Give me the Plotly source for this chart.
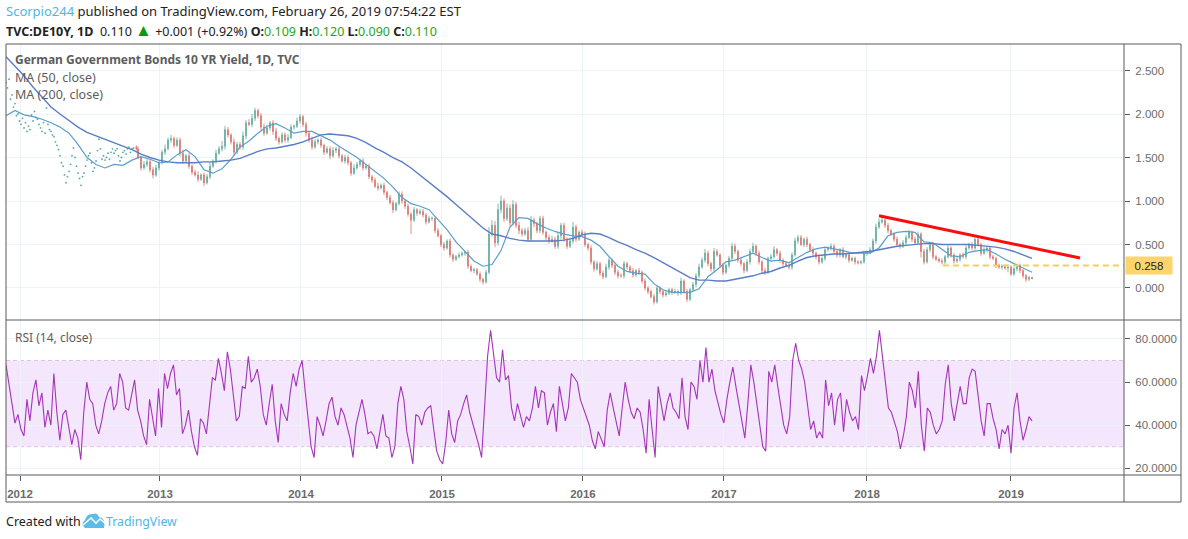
import numpy as np
import plotly.graph_objects as go
from plotly.subplots import make_subplots

# x axis is counted in weekly-ish bars, bar 0 is the first drawn candle (late 2012)
YEAR_BARS = [-38.33, 8.33, 55.33, 102.33, 149.33, 196.33, 244, 292]
YEAR_LABELS = ["2012", "2013", "2014", "2015", "2016", "2017", "2018", "2019"]
PRICE_TICKS = [0.0, 0.5, 1.0, 1.5, 2.0, 2.5]
RSI_TICKS = [20, 40, 60, 80]
RSI_BAND = [30, 70]

FIRST_OPEN = 1.62
CLOSE = [
    1.60, 1.50, 1.38, 1.42, 1.45, 1.36, 1.30, 1.38, 1.44, 1.56, 1.60, 1.70, 1.72, 1.64, 1.70,
    1.55, 1.46, 1.52, 1.40, 1.33, 1.30, 1.25, 1.30, 1.21, 1.28, 1.40, 1.46, 1.55, 1.60, 1.63,
    1.82, 1.76, 1.68, 1.56, 1.65, 1.62, 1.75, 1.90, 1.88, 1.95, 2.04, 1.98, 1.85, 1.78, 1.84,
    1.90, 1.80, 1.72, 1.68, 1.76, 1.70, 1.73, 1.85, 1.86, 1.92, 1.97, 1.88, 1.78, 1.70, 1.62,
    1.68, 1.70, 1.64, 1.56, 1.60, 1.52, 1.58, 1.60, 1.52, 1.46, 1.50, 1.44, 1.32, 1.38, 1.42,
    1.46, 1.38, 1.40, 1.28, 1.24, 1.17, 1.15, 1.18, 1.10, 1.04, 0.98, 0.90, 0.97, 1.08, 1.00,
    0.94, 0.85, 0.78, 0.90, 0.86, 0.88, 0.84, 0.76, 0.80, 0.80, 0.66, 0.60, 0.50, 0.46, 0.54,
    0.38, 0.33, 0.36, 0.38, 0.40, 0.41, 0.25, 0.20, 0.21, 0.16, 0.10, 0.07, 0.18, 0.62, 0.72,
    0.52, 0.90, 1.00, 0.80, 0.92, 0.75, 0.96, 0.72, 0.66, 0.62, 0.66, 0.56, 0.78, 0.74, 0.66,
    0.80, 0.64, 0.58, 0.54, 0.56, 0.48, 0.60, 0.72, 0.56, 0.48, 0.54, 0.70, 0.56, 0.64, 0.62,
    0.50, 0.46, 0.30, 0.22, 0.28, 0.17, 0.13, 0.24, 0.32, 0.26, 0.18, 0.14, 0.14, 0.28, 0.24,
    0.20, 0.15, 0.20, 0.18, 0.08, 0.00, -0.04, -0.10, -0.16, 0.00, -0.04, -0.08, -0.06, -0.02, -0.05,
    -0.04, -0.06, 0.08, -0.04, -0.13, -0.02, 0.04, 0.14, 0.24, 0.32, 0.40, 0.28, 0.22, 0.42, 0.38,
    0.26, 0.18, 0.26, 0.34, 0.48, 0.42, 0.32, 0.28, 0.20, 0.30, 0.42, 0.48, 0.40, 0.30, 0.20,
    0.18, 0.34, 0.36, 0.44, 0.40, 0.32, 0.28, 0.26, 0.24, 0.38, 0.54, 0.58, 0.50, 0.56, 0.50,
    0.44, 0.40, 0.36, 0.30, 0.34, 0.44, 0.46, 0.48, 0.42, 0.38, 0.44, 0.36, 0.38, 0.32, 0.34,
    0.30, 0.29, 0.30, 0.40, 0.41, 0.44, 0.54, 0.70, 0.76, 0.78, 0.72, 0.66, 0.62, 0.56, 0.50,
    0.48, 0.52, 0.58, 0.64, 0.56, 0.52, 0.62, 0.42, 0.30, 0.44, 0.50, 0.36, 0.33, 0.31, 0.30,
    0.36, 0.46, 0.38, 0.31, 0.33, 0.38, 0.36, 0.46, 0.50, 0.46, 0.56, 0.50, 0.40, 0.44, 0.46,
    0.36, 0.34, 0.26, 0.24, 0.25, 0.23, 0.24, 0.16, 0.22, 0.26, 0.20, 0.14, 0.10, 0.12, 0.11,
]
# wick lengths above / below the candle body
WICK_UP = [
    0.02, 0.03, 0.02, 0.04, 0.03, 0.02, 0.03, 0.04, 0.02, 0.03, 0.05, 0.03, 0.04, 0.02, 0.03,
    0.03, 0.04, 0.02, 0.03, 0.02, 0.03, 0.04, 0.02, 0.03, 0.03, 0.05, 0.02, 0.04, 0.03, 0.06,
    0.04, 0.03, 0.02, 0.04, 0.03, 0.03, 0.05, 0.03, 0.04, 0.05, 0.03, 0.02, 0.03, 0.04, 0.03,
    0.02, 0.03, 0.04, 0.02, 0.03, 0.03, 0.04, 0.03, 0.02, 0.04, 0.03, 0.02, 0.03, 0.02, 0.04,
    0.03, 0.02, 0.03, 0.02, 0.03, 0.03, 0.04, 0.02, 0.03, 0.02, 0.03, 0.03, 0.02, 0.04, 0.03,
    0.02, 0.03, 0.02, 0.03, 0.02, 0.03, 0.04, 0.02, 0.03, 0.02, 0.03, 0.03, 0.02, 0.03, 0.03,
    0.02, 0.03, 0.02, 0.03, 0.02, 0.03, 0.03, 0.02, 0.03, 0.02, 0.02, 0.03, 0.02, 0.03, 0.02,
    0.03, 0.02, 0.02, 0.03, 0.02, 0.02, 0.03, 0.02, 0.02, 0.02, 0.03, 0.02, 0.03, 0.08, 0.06,
    0.05, 0.07, 0.06, 0.03, 0.05, 0.04, 0.05, 0.03, 0.04, 0.03, 0.03, 0.04, 0.05, 0.03, 0.02,
    0.03, 0.03, 0.02, 0.03, 0.04, 0.03, 0.04, 0.03, 0.03, 0.02, 0.04, 0.06, 0.03, 0.02, 0.03,
    0.03, 0.02, 0.03, 0.02, 0.03, 0.02, 0.03, 0.04, 0.03, 0.02, 0.02, 0.03, 0.03, 0.03, 0.02,
    0.02, 0.03, 0.02, 0.03, 0.02, 0.03, 0.02, 0.02, 0.03, 0.03, 0.02, 0.02, 0.03, 0.02, 0.02,
    0.03, 0.02, 0.04, 0.02, 0.03, 0.02, 0.03, 0.03, 0.04, 0.03, 0.05, 0.03, 0.02, 0.04, 0.03,
    0.02, 0.03, 0.02, 0.03, 0.04, 0.03, 0.02, 0.03, 0.02, 0.03, 0.03, 0.04, 0.02, 0.03, 0.02,
    0.03, 0.02, 0.03, 0.04, 0.02, 0.03, 0.02, 0.03, 0.02, 0.03, 0.04, 0.03, 0.03, 0.02, 0.03,
    0.02, 0.03, 0.02, 0.03, 0.02, 0.03, 0.02, 0.03, 0.02, 0.03, 0.02, 0.03, 0.02, 0.03, 0.02,
    0.02, 0.02, 0.02, 0.03, 0.02, 0.03, 0.03, 0.04, 0.04, 0.03, 0.02, 0.03, 0.02, 0.02, 0.03,
    0.02, 0.03, 0.03, 0.03, 0.02, 0.03, 0.03, 0.02, 0.03, 0.03, 0.02, 0.02, 0.02, 0.02, 0.03,
    0.02, 0.03, 0.02, 0.02, 0.03, 0.02, 0.03, 0.03, 0.02, 0.03, 0.02, 0.02, 0.02, 0.03, 0.02,
    0.02, 0.02, 0.02, 0.02, 0.02, 0.02, 0.03, 0.02, 0.02, 0.02, 0.02, 0.02, 0.02, 0.02, 0.01,
]
WICK_DOWN = [
    0.02, 0.02, 0.03, 0.02, 0.03, 0.03, 0.04, 0.02, 0.03, 0.02, 0.03, 0.02, 0.03, 0.03, 0.02,
    0.04, 0.03, 0.02, 0.03, 0.03, 0.02, 0.03, 0.02, 0.04, 0.02, 0.03, 0.02, 0.03, 0.02, 0.03,
    0.04, 0.03, 0.03, 0.04, 0.02, 0.03, 0.03, 0.04, 0.02, 0.03, 0.03, 0.03, 0.04, 0.03, 0.02,
    0.03, 0.04, 0.03, 0.03, 0.02, 0.03, 0.03, 0.02, 0.03, 0.02, 0.03, 0.03, 0.04, 0.03, 0.03,
    0.02, 0.03, 0.03, 0.03, 0.02, 0.04, 0.02, 0.03, 0.03, 0.02, 0.03, 0.03, 0.03, 0.02, 0.02,
    0.03, 0.03, 0.02, 0.03, 0.03, 0.02, 0.03, 0.02, 0.03, 0.03, 0.02, 0.04, 0.02, 0.02, 0.03,
    0.03, 0.03, 0.16, 0.02, 0.03, 0.02, 0.03, 0.03, 0.02, 0.03, 0.03, 0.02, 0.03, 0.03, 0.02,
    0.03, 0.03, 0.02, 0.02, 0.02, 0.03, 0.03, 0.02, 0.03, 0.02, 0.03, 0.03, 0.02, 0.02, 0.03,
    0.05, 0.03, 0.04, 0.04, 0.03, 0.04, 0.03, 0.03, 0.04, 0.03, 0.02, 0.03, 0.03, 0.04, 0.03,
    0.03, 0.03, 0.03, 0.03, 0.02, 0.03, 0.03, 0.04, 0.03, 0.03, 0.02, 0.03, 0.03, 0.02, 0.03,
    0.03, 0.03, 0.03, 0.03, 0.02, 0.03, 0.03, 0.02, 0.03, 0.03, 0.03, 0.03, 0.02, 0.03, 0.03,
    0.03, 0.03, 0.02, 0.03, 0.03, 0.03, 0.03, 0.02, 0.03, 0.02, 0.03, 0.03, 0.02, 0.02, 0.03,
    0.02, 0.03, 0.02, 0.03, 0.03, 0.02, 0.02, 0.03, 0.03, 0.02, 0.03, 0.03, 0.03, 0.03, 0.02,
    0.03, 0.03, 0.02, 0.03, 0.02, 0.03, 0.03, 0.03, 0.03, 0.02, 0.03, 0.02, 0.03, 0.03, 0.03,
    0.03, 0.02, 0.03, 0.02, 0.03, 0.03, 0.03, 0.02, 0.03, 0.03, 0.02, 0.03, 0.02, 0.03, 0.03,
    0.02, 0.03, 0.03, 0.03, 0.02, 0.03, 0.02, 0.03, 0.02, 0.03, 0.03, 0.02, 0.03, 0.03, 0.02,
    0.03, 0.02, 0.02, 0.02, 0.03, 0.02, 0.03, 0.03, 0.02, 0.02, 0.03, 0.03, 0.02, 0.03, 0.03,
    0.03, 0.02, 0.03, 0.02, 0.03, 0.02, 0.02, 0.07, 0.03, 0.02, 0.03, 0.03, 0.02, 0.02, 0.03,
    0.03, 0.02, 0.03, 0.03, 0.02, 0.03, 0.02, 0.03, 0.02, 0.03, 0.03, 0.02, 0.03, 0.02, 0.03,
    0.03, 0.02, 0.03, 0.02, 0.03, 0.02, 0.05, 0.02, 0.02, 0.03, 0.03, 0.03, 0.03, 0.02, 0.01,
]
# 2012 is only dots in the picture (half a bar apart, ends just before bar 0)
DOTS = [
    2.36, 2.30, 2.40, 2.17, 2.22, 2.08, 2.12, 1.98, 2.00, 1.92, 1.88, 1.95, 1.84, 1.90, 1.80,
    1.86, 1.82, 1.99, 1.92, 2.03, 1.96, 1.94, 1.88, 1.84, 1.80, 1.90, 1.78, 2.07, 1.88, 1.82,
    1.80, 1.76, 1.74, 1.68, 1.64, 1.59, 1.52, 1.44, 1.40, 1.30, 1.21, 1.28, 1.34, 1.42, 1.52,
    1.61, 1.50, 1.40, 1.32, 1.26, 1.18, 1.28, 1.32, 1.40, 1.47, 1.52, 1.55, 1.44, 1.34, 1.38,
    1.46, 1.58, 1.71, 1.60, 1.48, 1.52, 1.47, 1.50, 1.55, 1.48, 1.56, 1.60, 1.55, 1.58, 1.60,
    1.52, 1.46, 1.50, 1.56, 1.58, 1.54, 1.60, 1.62, 1.56, 1.60, 1.61,
]
MA_200 = [
    2.66, 2.55, 2.44, 2.31, 2.19, 2.08, 2.00, 1.92, 1.85, 1.79, 1.75, 1.71, 1.67, 1.63, 1.59,
    1.54, 1.50, 1.47, 1.45, 1.44, 1.44, 1.44, 1.45, 1.45, 1.46, 1.47, 1.49, 1.53, 1.57, 1.60,
    1.61, 1.63, 1.65, 1.68, 1.72, 1.76, 1.77, 1.76, 1.75, 1.72, 1.67, 1.61, 1.56, 1.50, 1.45,
    1.38, 1.30, 1.21, 1.13, 1.05, 0.96, 0.87, 0.78, 0.69, 0.62, 0.60, 0.57, 0.55, 0.54, 0.54,
    0.54, 0.54, 0.55, 0.57, 0.61, 0.63, 0.62, 0.58, 0.53, 0.49, 0.44, 0.40, 0.35, 0.29, 0.23,
    0.17, 0.12, 0.09, 0.09, 0.08, 0.08, 0.10, 0.12, 0.14, 0.17, 0.19, 0.23, 0.26, 0.31, 0.35,
    0.37, 0.38, 0.39, 0.39, 0.40, 0.41, 0.42, 0.44, 0.46, 0.48, 0.49, 0.50, 0.51, 0.51, 0.50,
    0.50, 0.50, 0.50, 0.49, 0.48, 0.47, 0.45, 0.42, 0.38, 0.34,
]
MA_50 = [
    1.98, 2.04, 1.99, 1.97, 1.94, 1.90, 1.85, 1.78, 1.65, 1.50, 1.42, 1.38, 1.42, 1.41, 1.47,
    1.51, 1.48, 1.44, 1.45, 1.53, 1.59, 1.51, 1.36, 1.32, 1.37, 1.48, 1.62, 1.69, 1.78, 1.86,
    1.89, 1.84, 1.78, 1.80, 1.80, 1.75, 1.70, 1.63, 1.57, 1.50, 1.42, 1.34, 1.26, 1.16, 1.04,
    0.97, 0.94, 0.90, 0.78, 0.67, 0.53, 0.42, 0.31, 0.25, 0.27, 0.43, 0.70, 0.81, 0.80, 0.74,
    0.69, 0.65, 0.62, 0.60, 0.59, 0.55, 0.48, 0.36, 0.25, 0.19, 0.17, 0.16, 0.05, -0.02, -0.05,
    -0.05, -0.05, -0.01, 0.13, 0.21, 0.30, 0.32, 0.36, 0.40, 0.35, 0.31, 0.32, 0.29, 0.35, 0.41,
    0.45, 0.47, 0.45, 0.43, 0.40, 0.40, 0.40, 0.46, 0.60, 0.64, 0.65, 0.64, 0.53, 0.52, 0.44,
    0.37, 0.36, 0.41, 0.43, 0.44, 0.39, 0.33, 0.28, 0.23, 0.18,
]
RSI = [
    68, 58, 50, 41, 45, 38, 35, 52, 42, 55, 61, 49, 55, 39, 47, 40, 64, 46, 33, 45,
    47, 39, 31, 38, 34, 24, 46, 60, 52, 50, 40, 36, 42, 50, 55, 58, 47, 50, 64, 60,
    48, 47, 54, 61, 47, 42, 35, 31, 52, 44, 35, 57, 39, 64, 57, 64, 68, 54, 57, 36,
    40, 47, 37, 30, 26, 43, 41, 36, 50, 62, 61, 71, 64, 56, 74, 66, 54, 42, 44, 58,
    57, 72, 60, 62, 66, 58, 45, 40, 50, 59, 42, 32, 50, 45, 42, 55, 64, 58, 66, 70,
    56, 42, 30, 25, 44, 40, 35, 42, 50, 53, 44, 40, 48, 45, 40, 34, 25, 40, 46, 52,
    45, 36, 37, 35, 29, 38, 45, 35, 34, 25, 30, 50, 58, 52, 37, 30, 22, 45, 44, 40,
    46, 48, 49, 38, 28, 24, 22, 32, 47, 36, 32, 42, 45, 50, 54, 46, 41, 37, 31, 25,
    48, 72, 84, 74, 62, 60, 75, 61, 63, 48, 42, 50, 44, 39, 44, 42, 48, 58, 48, 56,
    55, 40, 46, 50, 37, 58, 50, 42, 48, 64, 62, 60, 52, 48, 44, 40, 33, 29, 37, 33,
    30, 47, 55, 48, 42, 35, 48, 60, 52, 46, 43, 48, 46, 38, 27, 52, 38, 25, 58, 50,
    42, 50, 55, 48, 46, 43, 62, 44, 38, 60, 58, 52, 70, 60, 76, 60, 66, 56, 50, 45,
    41, 52, 60, 67, 58, 50, 42, 34, 50, 68, 60, 50, 40, 30, 28, 65, 60, 68, 58, 48,
    40, 36, 44, 70, 78, 70, 66, 60, 48, 38, 42, 34, 37, 34, 61, 49, 55, 40, 52, 55,
    37, 52, 46, 42, 44, 38, 63, 56, 63, 71, 64, 72, 84, 71, 59, 48, 46, 42, 37, 29,
    35, 44, 60, 56, 48, 65, 40, 28, 48, 46, 40, 36, 38, 42, 59, 68, 50, 42, 50, 58,
    50, 50, 62, 66, 65, 52, 42, 35, 50, 50, 43, 38, 29, 38, 36, 40, 27, 48, 55, 42,
    33, 38, 44, 42,
]
TREND_BARS = [248, 315]
TREND_VALUES = [0.83, 0.345]
LEVEL_BARS = [269.3, 329.67]
LEVEL_VALUES = [0.258, 0.258]
LAST_LEVEL = "0.258"

W, H = 1188, 539
LEFT, RIGHT, TOP, BOTTOM = 6, 1124, 44, 502
FONT = "Noto Sans"
AXIS_FONT = "Liberation Sans"
GRID = "#edf3f8"
FRAME = "#5a5a5a"
GREY = "#6b6b6b"
BLUE = "#4fb6e6"


def px(x):
    return (x - LEFT) / (RIGHT - LEFT)


def py(y):
    return (BOTTOM - y) / (BOTTOM - TOP)


def label(x, y, text, size=13, color="#222222", family=FONT, **kw):
    return dict(x=px(x), y=py(y), xref="paper", yref="paper", text=text, showarrow=False,
                xanchor="left", yanchor="middle", align="left", xshift=-2,
                font=dict(size=size, color=color, family=family), **kw)


def frame_line(x0, y0, x1, y1):
    return dict(type="line", xref="paper", yref="paper", x0=px(x0), y0=py(y0), x1=px(x1), y1=py(y1),
                line=dict(color=FRAME, width=1), layer="above")


close = np.array(CLOSE)
opens = np.r_[FIRST_OPEN, close[:-1]]
high = np.maximum(opens, close) + np.array(WICK_UP)
low = np.minimum(opens, close) - np.array(WICK_DOWN)
bars = np.arange(len(close), dtype=float)
bars[0] = 0.45  # plotly sizes all bodies from the smallest gap, this keeps them thin
ma_bars = np.linspace(-43, 299, len(MA_50))
rsi_bars = np.linspace(-43, 299, len(RSI))
dot_bars = np.linspace(-43, -0.5, len(DOTS))

fig = make_subplots(rows=2, cols=1, shared_xaxes=True, vertical_spacing=0)

fig.add_trace(go.Scatter(x=dot_bars, y=DOTS, mode="markers", hoverinfo="skip",
                         marker=dict(size=1.8, color="#55ab9c")), row=1, col=1)
fig.add_trace(go.Candlestick(x=bars, open=opens, high=high, low=low, close=close,
                             whiskerwidth=0, opacity=0.9,
                             increasing=dict(line=dict(color="#4f9f90", width=0.8), fillcolor="#4f9f90"),
                             decreasing=dict(line=dict(color="#d4645c", width=0.8), fillcolor="#d4645c")),
              row=1, col=1)
fig.add_trace(go.Scatter(x=ma_bars, y=MA_50, mode="lines",
                         line=dict(color="#5a9ecb", width=1.2)), row=1, col=1)
fig.add_trace(go.Scatter(x=ma_bars, y=MA_200, mode="lines",
                         line=dict(color="#5b7cc6", width=1.4)), row=1, col=1)
fig.add_trace(go.Scatter(x=LEVEL_BARS, y=LEVEL_VALUES, mode="lines",
                         line=dict(color="#f9cf58", width=2, dash="6px,4px")), row=1, col=1)
fig.add_trace(go.Scatter(x=TREND_BARS, y=TREND_VALUES, mode="lines",
                         line=dict(color="#fb0d0d", width=3)), row=1, col=1)
fig.add_trace(go.Scatter(x=rsi_bars, y=RSI, mode="lines",
                         line=dict(color="#a435b8", width=1.1)), row=2, col=1)

# RSI band
fig.add_hrect(y0=RSI_BAND[0], y1=RSI_BAND[1], row=2, col=1, layer="below", line_width=0,
              fillcolor="rgba(155,40,235,0.11)")
for level in RSI_BAND:
    fig.add_hline(y=level, row=2, col=1, layer="below",
                  line=dict(color="#d8c6de", width=1, dash="4px,3px"))

price_domain = [py(320), 1]
rsi_domain = [py(475), py(320)]
x_range = [-43, 329.67]

fig.update_layout(
    width=W, height=H,
    margin=dict(l=LEFT, r=W - RIGHT, t=TOP, b=H - BOTTOM),
    paper_bgcolor="#ffffff", plot_bgcolor="#ffffff",
    showlegend=False,
    hovermode=False,
    dragmode=False,
)
fig.update_xaxes(range=x_range, tickvals=YEAR_BARS, ticktext=YEAR_LABELS, showgrid=True, gridcolor=GRID,
                 gridwidth=1, zeroline=False, showline=False, rangeslider_visible=False)
fig.update_xaxes(showticklabels=False, ticks="", row=1, col=1)
fig.update_xaxes(ticks="outside", ticklen=5, tickcolor=FRAME, ticklabelstandoff=3,
                 tickfont=dict(size=11.5, color=GREY, family=AXIS_FONT, weight="bold"), row=2, col=1)
fig.update_yaxes(side="right", showgrid=True, gridcolor=GRID, gridwidth=1, zeroline=False, showline=False,
                 ticks="outside", ticklen=5, tickcolor=FRAME, ticklabelstandoff=3,
                 tickfont=dict(size=11.5, color=GREY, family=AXIS_FONT))
fig.update_yaxes(domain=price_domain, range=[-0.368, 2.805], tickvals=PRICE_TICKS, tickformat=".3f",
                 row=1, col=1)
fig.update_yaxes(domain=rsi_domain, range=[16.9, 88.8], tickvals=RSI_TICKS, tickformat=".4f", row=2, col=1)

for shape in [
    frame_line(LEFT, TOP, 1181, TOP),
    frame_line(LEFT, BOTTOM, 1181, BOTTOM),
    frame_line(LEFT, TOP, LEFT, BOTTOM),
    frame_line(1181, TOP, 1181, BOTTOM),
    frame_line(RIGHT, TOP, RIGHT, BOTTOM),
    frame_line(LEFT, 320, 1181, 320),
    frame_line(LEFT, 475, 1181, 475),
]:
    fig.add_shape(shape)

# TradingView logo
fig.add_shape(type="path", xref="paper", yref="paper", line=dict(width=0), fillcolor="#5cbde8",
              path="M {} {} Q {} {} {} {} Q {} {} {} {} Q {} {} {} {} Q {} {} {} {} L {} {} Z".format(
                  px(85), py(528), px(80), py(524), px(85), py(520), px(87), py(513), px(93), py(514),
                  px(97), py(512), px(99), py(517), px(106), py(518), px(104), py(528), px(85), py(528)))
fig.add_shape(type="path", xref="paper", yref="paper", line=dict(color="#ffffff", width=1.6),
              path="M {} {} L {} {} L {} {} L {} {} L {} {}".format(
                  px(83), py(525), px(91), py(518), px(96), py(523), px(100), py(519), px(106), py(524)))

green = "#1fa51f"
for item in [
    label(6, 11, f'<span style="color:{BLUE}">Scorpio244</span> published on TradingView.com, February 26, 2019 07:54:22 EST'),
    label(6, 29, '<b>TVC:DE10Y, 1D</b>&nbsp; 0.110 <span style="color:#0a9a0a;font-size:17px">▲</span> +0.001 (+0.92%)'
                 f' <b>O:</b><span style="color:{green}">0.109</span>'
                 f' <b>H:</b><span style="color:{green}">0.120</span>'
                 f' <b>L:</b><span style="color:{green}">0.090</span>'
                 f' <b>C:</b><span style="color:{green}">0.110</span>', size=12.5),
    label(15, 60, "<b>German Government Bonds 10 YR Yield, 1D, TVC</b>", color="#5d5d5d", size=12),
    label(15, 77, "MA (50, close)", color="#5d5d5d", size=12.5),
    label(15, 94, "MA (200, close)", color="#5d5d5d", size=12.5),
    label(15, 337, "RSI (14, close)", color="#5d5d5d", size=12),
    label(6, 521, "Created with", size=12.5),
    label(106, 521, "TradingView", color=BLUE, size=12.3),
]:
    fig.add_annotation(item)

# price tag of the dashed level
fig.add_annotation(x=px(1125), y=0.258, xref="paper", yref="y", xanchor="left", yanchor="middle",
                   text=LAST_LEVEL, showarrow=False, bgcolor="#ffd56b", width=44, height=15, borderpad=1,
                   font=dict(size=11.5, color="#222222", family=AXIS_FONT))

fig.write_html("out.html", config=dict(displayModeBar=False),
               post_script="document.body.style.margin='0';document.body.style.overflow='hidden';")
